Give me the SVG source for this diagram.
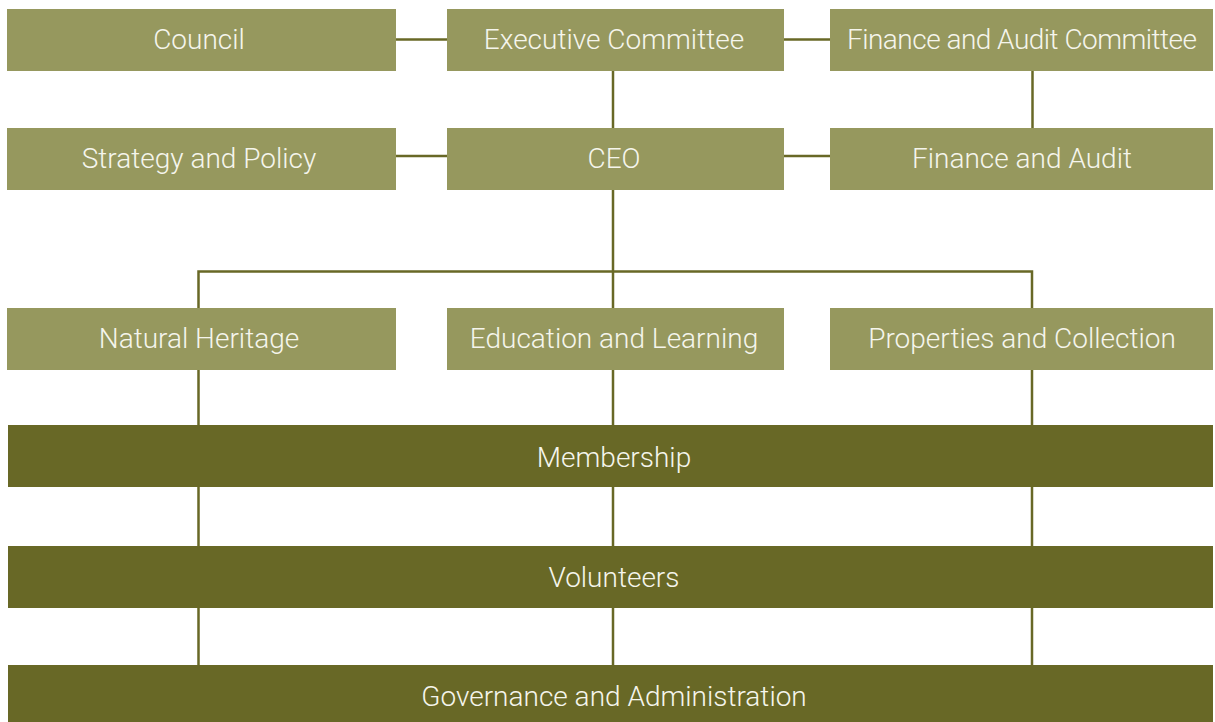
<svg xmlns="http://www.w3.org/2000/svg" width="1215" height="722" viewBox="0 0 1215 722">
<style>
.l{fill:#96985E}
.d{fill:#686826}
.t{fill:#F5F5EC;font-family:Roboto,"Liberation Sans",sans-serif;font-weight:300;font-size:28px;text-anchor:middle}
.c{stroke:#686826;stroke-width:2.5;fill:none}
</style>
<rect width="1215" height="722" fill="#FFFFFF"/>
<g id="connectors" class="c">
<line x1="396" y1="39.5" x2="447" y2="39.5"/>
<line x1="784" y1="39.5" x2="830" y2="39.5"/>
<line x1="396" y1="156" x2="447" y2="156"/>
<line x1="784" y1="156" x2="830" y2="156"/>
<line x1="613" y1="71" x2="613" y2="128"/>
<line x1="1032.5" y1="71" x2="1032.5" y2="128"/>
<line x1="613" y1="190" x2="613" y2="665"/>
<polyline points="198.5,665 198.5,271.5 1032,271.5 1032,665"/>
</g>
<g id="council"><rect class="l" x="7" y="9" width="389" height="62"/><text class="t" x="199" y="49">Council</text></g>
<g id="executive-committee"><rect class="l" x="447" y="9" width="337" height="62"/><text class="t" x="614" y="49">Executive Committee</text></g>
<g id="finance-audit-committee"><rect class="l" x="830" y="9" width="383" height="62"/><text class="t" x="1022" y="49" textLength="350">Finance and Audit Committee</text></g>
<g id="strategy-policy"><rect class="l" x="7" y="128" width="389" height="62"/><text class="t" x="199" y="168">Strategy and Policy</text></g>
<g id="ceo"><rect class="l" x="447" y="128" width="337" height="62"/><text class="t" x="614" y="168">CEO</text></g>
<g id="finance-audit"><rect class="l" x="830" y="128" width="383" height="62"/><text class="t" x="1022" y="168">Finance and Audit</text></g>
<g id="natural-heritage"><rect class="l" x="7" y="308" width="389" height="62"/><text class="t" x="199" y="348">Natural Heritage</text></g>
<g id="education-learning"><rect class="l" x="447" y="308" width="337" height="62"/><text class="t" x="614" y="348">Education and Learning</text></g>
<g id="properties-collection"><rect class="l" x="830" y="308" width="383" height="62"/><text class="t" x="1022" y="348">Properties and Collection</text></g>
<g id="membership"><rect class="d" x="8" y="425" width="1205" height="62"/><text class="t" x="614" y="467">Membership</text></g>
<g id="volunteers"><rect class="d" x="8" y="546" width="1205" height="62"/><text class="t" x="614" y="587">Volunteers</text></g>
<g id="governance"><rect class="d" x="8" y="665" width="1205" height="62"/><text class="t" x="614" y="706">Governance and Administration</text></g>
</svg>
